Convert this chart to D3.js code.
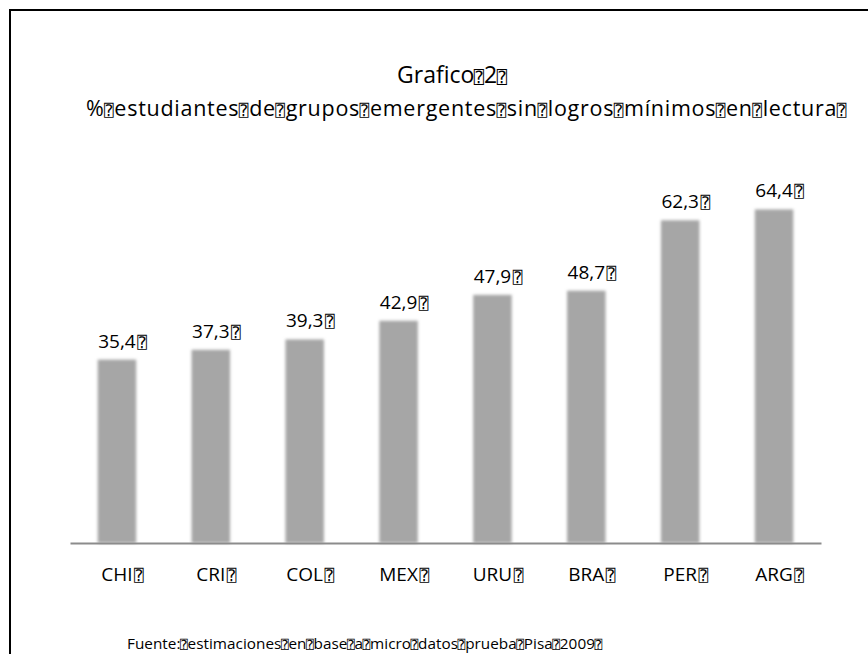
<!DOCTYPE html>
<html>
<head>
<meta charset="utf-8">
<script src="https://cdn.jsdelivr.net/npm/d3@7"></script>
<style>
  html, body { margin: 0; padding: 0; background: #fff; }
  svg { display: block; }
  text { font-family: "Open Sans", "Noto Sans", sans-serif; fill: #000; }
  .box { font-family: "DejaVu Sans Mono", "DejaVu Sans", monospace; }
</style>
</head>
<body>
<svg id="chart" width="868" height="654"></svg>
<script>
// Missing-glyph marker that follows each word in the chart's text
const BOX = "\u2370";

const categories = ["CHI", "CRI", "COL", "MEX", "URU", "BRA", "PER", "ARG"];
const values = [35.4, 37.3, 39.3, 42.9, 47.9, 48.7, 62.3, 64.4];
const yMax = 70;

const titleText = "Grafico" + BOX + "2" + BOX;
const subtitleText = ["%", "estudiantes", "de", "grupos", "emergentes", "sin", "logros", "mínimos", "en", "lectura", ""].join(BOX);
const sourceText = ["Fuente:", "estimaciones", "en", "base", "a", "micro", "datos", "prueba", "Pisa", "2009", ""].join(BOX);

const svg = d3.select("#chart");

// blur that softens the bar edges
const defs = svg.append("defs");
defs.append("filter").attr("id", "soft")
  .attr("x", "-20%").attr("y", "-5%").attr("width", "140%").attr("height", "110%")
  .append("feGaussianBlur").attr("stdDeviation", 1.4);

// outer frame (open on the right and bottom edges)
svg.append("rect")
  .attr("x", 10).attr("y", 10).attr("width", 900).attr("height", 700)
  .attr("fill", "none").attr("stroke", "#000").attr("stroke-width", 2);

const x = d3.scaleBand().domain(categories).range([70, 821])
  .paddingInner(0.59).paddingOuter(0.295);
const y = d3.scaleLinear().domain([0, yMax]).range([543, 543 - 5.18 * yMax]);

// Writes a string into a <text>, turning each BOX into a quad glyph.
// When a span [x0, x1] is given, the line is stretched to it with letter spacing.
function writeRich(textSel, str, size, boxSize, x0, x1) {
  const parts = str.split(BOX);
  parts.forEach((p, i) => {
    if (p.length) textSel.append("tspan").attr("class", "main").text(p);
    if (i < parts.length - 1) {
      textSel.append("tspan").attr("class", "box")
        .attr("font-size", boxSize).attr("dx", -0.5).text(BOX);
    }
  });
  textSel.attr("font-size", size);
  if (x0 === undefined) return textSel;
  const natural = textSel.node().getComputedTextLength();
  const n = str.length;
  const ls = Math.max(0, (x1 - x0 - natural) / n);
  textSel.attr("letter-spacing", ls);
  const total = textSel.node().getComputedTextLength();
  textSel.attr("x", (x0 + x1) / 2 - total / 2);
  return textSel;
}

// bars
svg.append("g").attr("filter", "url(#soft)")
  .selectAll("rect").data(values).join("rect")
  .attr("x", (d, i) => x(categories[i]))
  .attr("y", d => y(d))
  .attr("width", x.bandwidth())
  .attr("height", d => y(0) - y(d))
  .attr("fill", "#a6a6a6");

// baseline axis
const axis = svg.append("g").attr("transform", `translate(0,${y(0)})`)
  .call(d3.axisBottom(x).tickSize(0).tickFormat(""));
axis.select(".domain").attr("stroke", "#8c8c8c").attr("stroke-width", 2);

// Label whose first run is centred on cx, with the trailing box after it
function centeredLabel(cx, baseline, str, size) {
  const t = svg.append("text").attr("y", baseline);
  writeRich(t, str, size, 16);
  const w = t.select("tspan.main").node().getComputedTextLength();
  t.attr("x", cx - w / 2);
  t.select("tspan.box").attr("dx", 1.5);
  return t;
}

const fmt = v => v.toFixed(1).replace(".", ",");

values.forEach((v, i) => {
  const cx = x(categories[i]) + x.bandwidth() / 2;
  centeredLabel(cx, y(v) - 12, fmt(v) + BOX, 19);
  centeredLabel(cx, 581, categories[i] + BOX, 19);
});

// title block
writeRich(svg.append("text").attr("y", 83), titleText, 23, 17, 398, 507);
writeRich(svg.append("text").attr("y", 116), subtitleText, 21.5, 16, 86, 852);

// source note
writeRich(svg.append("text").attr("y", 649), sourceText, 15.3, 12.5, 127, 607);
</script>
</body>
</html>
